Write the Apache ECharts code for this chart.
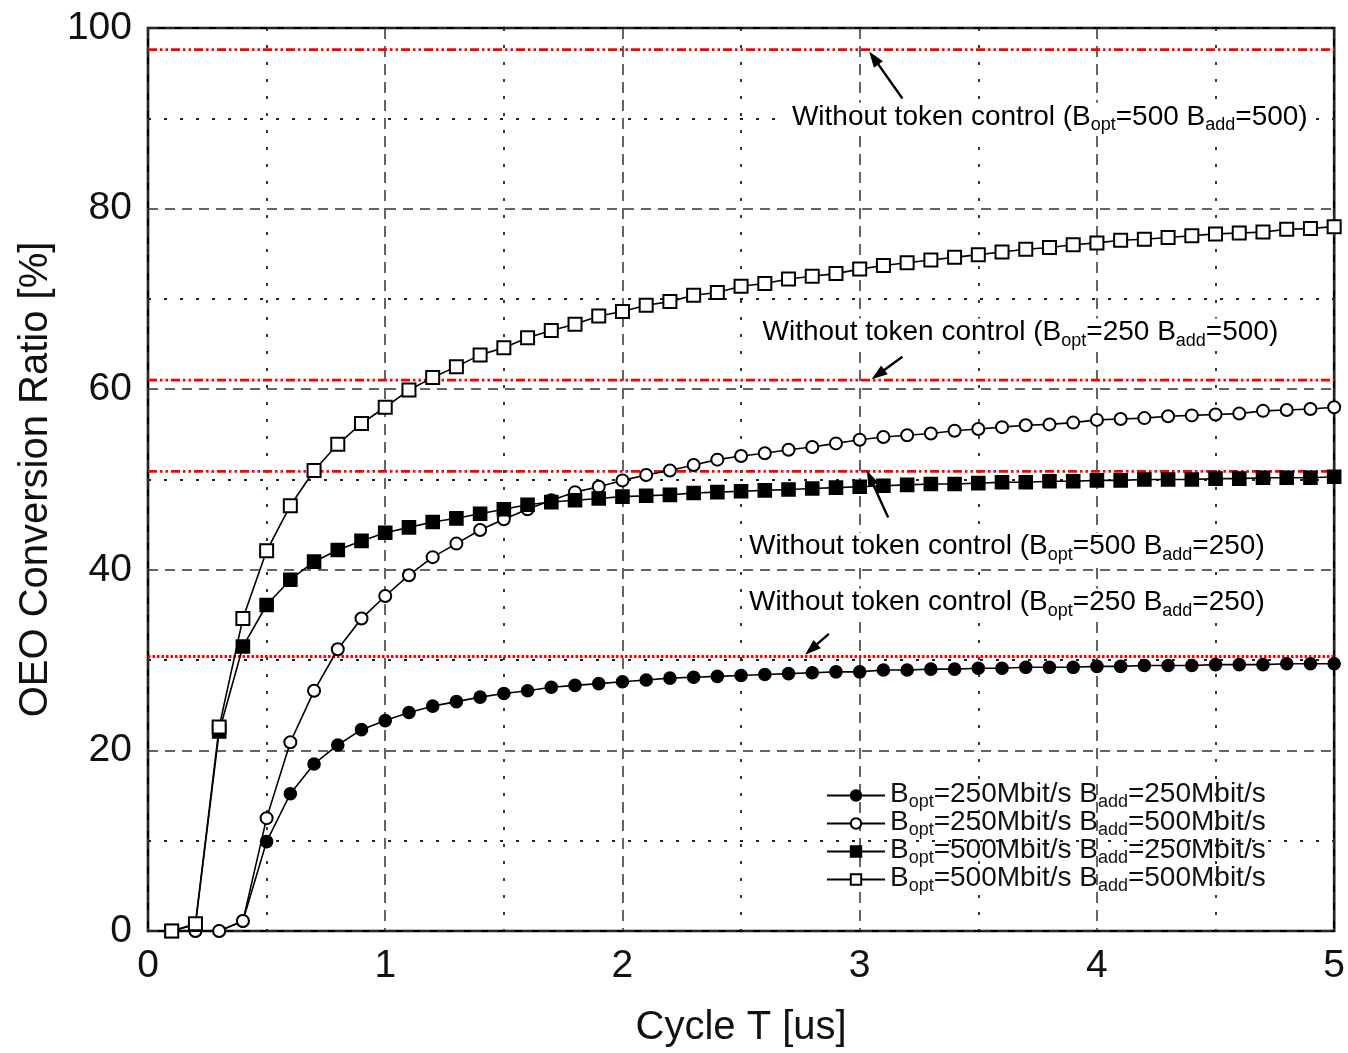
<!DOCTYPE html>
<html>
<head>
<meta charset="utf-8">
<script src="https://cdn.jsdelivr.net/npm/echarts@6/dist/echarts.min.js"></script>
<style>
  html, body { margin: 0; padding: 0; background: #fff; }
  #chart { width: 1348px; height: 1053px; }
</style>
</head>
<body>
<div id="chart"></div>
<script>
// Cycle length T [us]
const cycleT = [0.1, 0.2, 0.3, 0.4, 0.5, 0.6, 0.7, 0.8, 0.9, 1.0,
                1.1, 1.2, 1.3, 1.4, 1.5, 1.6, 1.7, 1.8, 1.9, 2.0,
                2.1, 2.2, 2.3, 2.4, 2.5, 2.6, 2.7, 2.8, 2.9, 3.0,
                3.1, 3.2, 3.3, 3.4, 3.5, 3.6, 3.7, 3.8, 3.9, 4.0,
                4.1, 4.2, 4.3, 4.4, 4.5, 4.6, 4.7, 4.8, 4.9, 5.0];

// OEO conversion ratio [%] with token control
const opt250add250 = [0, 0, 0, 1.1, 9.9, 15.2, 18.5, 20.6, 22.3, 23.3,
                      24.2, 24.9, 25.4, 25.9, 26.3, 26.6, 27.0, 27.2, 27.4, 27.6,
                      27.8, 28.0, 28.1, 28.2, 28.3, 28.4, 28.5, 28.6, 28.7, 28.7,
                      28.9, 28.9, 29.0, 29.0, 29.1, 29.1, 29.2, 29.2, 29.2, 29.3,
                      29.3, 29.4, 29.4, 29.4, 29.5, 29.5, 29.5, 29.6, 29.6, 29.6];
const opt250add500 = [0, 0, 0, 1.1, 12.5, 20.9, 26.6, 31.2, 34.6, 37.1,
                      39.4, 41.4, 42.9, 44.4, 45.6, 46.7, 47.7, 48.6, 49.2, 49.9,
                      50.5, 51.0, 51.6, 52.2, 52.6, 52.9, 53.3, 53.6, 54.0, 54.4,
                      54.7, 54.9, 55.1, 55.4, 55.6, 55.8, 56.0, 56.1, 56.3, 56.6,
                      56.7, 56.8, 57.0, 57.1, 57.2, 57.3, 57.6, 57.7, 57.8, 58.0];
const opt500add250 = [0, 0.7, 22.1, 31.5, 36.1, 38.9, 40.9, 42.2, 43.2, 44.1,
                      44.7, 45.3, 45.7, 46.2, 46.7, 47.2, 47.5, 47.7, 47.9, 48.1,
                      48.2, 48.3, 48.5, 48.6, 48.7, 48.8, 48.9, 49.0, 49.1, 49.2,
                      49.3, 49.4, 49.5, 49.5, 49.6, 49.7, 49.7, 49.8, 49.8, 49.9,
                      49.9, 50.0, 50.0, 50.0, 50.1, 50.1, 50.2, 50.2, 50.2, 50.3];
const opt500add500 = [0, 0.8, 22.6, 34.6, 42.1, 47.1, 51.0, 53.9, 56.2, 58.0,
                      59.9, 61.3, 62.5, 63.8, 64.6, 65.7, 66.5, 67.2, 68.1, 68.6,
                      69.3, 69.7, 70.4, 70.7, 71.4, 71.7, 72.2, 72.5, 72.8, 73.3,
                      73.7, 74.0, 74.3, 74.6, 74.9, 75.2, 75.5, 75.7, 76.0, 76.2,
                      76.5, 76.6, 76.8, 77.0, 77.2, 77.3, 77.4, 77.7, 77.8, 78.0];

// Ratio without token control (horizontal reference levels)
const noTokenLevels = [97.6, 61.0, 50.9, 30.4];   // 500/500, 250/500, 500/250, 250/250
const noTokenRates  = [['500', '500'], ['250', '500'], ['500', '250'], ['250', '250']];

// Series rates [Bopt, Badd] in Mbit/s
const seriesRates = [['250', '250'], ['250', '500'], ['500', '250'], ['500', '500']];
const seriesValues = [opt250add250, opt250add500, opt500add250, opt500add500];
const seriesSymbols = ['circle', 'emptyCircle', 'rect', 'emptyRect'];

// Annotation anchors in data units: text box left/middle, arrow tail, arrow tip
const noteText  = [[2.689, 90.0], [2.565, 66.1], [2.508, 42.4], [2.508, 36.2]];
const noteTail  = [[3.18, 92.2], [3.18, 63.6], [3.12, 45.8], [2.87, 32.9]];
const noteTip   = [[3.04, 97.4], [3.05, 61.1], [3.03, 51.0], [2.77, 30.6]];

const yTicks = [0, 20, 40, 60, 80, 100];
const xTicks = [0, 1, 2, 3, 4, 5];

const FONT = '"Liberation Sans", Arial, Helvetica, sans-serif';
const INK = '#111';

// Main text sits at the top of a tall line, subscripts (opt / add) at its bottom
const richStyles = {
  m: { fontSize: 28, lineHeight: 31, verticalAlign: 'top', fontFamily: FONT, color: INK },
  s: { fontSize: 18, lineHeight: 10, verticalAlign: 'bottom', fontFamily: FONT, color: INK }
};

function seriesName(r) { return 'Bopt=' + r[0] + 'Mbit/s Badd=' + r[1] + 'Mbit/s'; }

const chart = echarts.init(document.getElementById('chart'), null, { renderer: 'canvas' });

const series = seriesValues.map((vals, i) => ({
  name: seriesName(seriesRates[i]),
  type: 'line',
  data: cycleT.map((t, k) => [t, vals[k]]),
  symbol: seriesSymbols[i],
  symbolSize: seriesSymbols[i].indexOf('ircle') >= 0 ? 12 : 13,
  showSymbol: true,
  lineStyle: { color: '#000', width: 1.6 },
  itemStyle: { color: '#000', borderColor: '#000', borderWidth: 1.6 },
  z: 5,
  animation: false
}));

// Red reference levels (dash-dot-dot, lowest one dotted)
noTokenLevels.forEach((lvl, i) => {
  series.push({
    name: 'ref' + i,
    type: 'line',
    data: [[0, lvl], [5, lvl]],
    symbol: 'none',
    lineStyle: {
      color: '#ff0000',
      width: 2.8,
      type: i === 3 ? [2.5, 2] : [9, 3, 2.5, 3, 2.5, 3]
    },
    silent: true,
    z: 3,
    animation: false
  });
});

chart.setOption({
  animation: false,
  backgroundColor: '#fff',
  grid: {
    left: 148, right: 13, top: 28, bottom: 117,
    show: true, borderColor: '#000', borderWidth: 2.6, backgroundColor: 'transparent'
  },
  xAxis: {
    type: 'value', min: 0, max: 5, interval: 1,
    name: 'Cycle T [us]', nameLocation: 'middle', nameGap: 77,
    nameTextStyle: { fontSize: 40, fontFamily: FONT, color: INK },
    axisLine: { show: false }, axisTick: { show: false },
    axisLabel: { fontSize: 39, fontFamily: FONT, color: INK, margin: 16 },
    splitLine: { show: true, lineStyle: { color: '#333', width: 1.5, type: [11, 7] } },
    minorTick: { show: false, splitNumber: 2 },
    minorSplitLine: { show: true, lineStyle: { color: '#222', width: 1.8, type: [3, 14] } }
  },
  yAxis: {
    type: 'value', min: 0, max: 100, interval: 20,
    name: 'OEO Conversion Ratio [%]', nameLocation: 'middle', nameGap: 92,
    nameTextStyle: { fontSize: 40, fontFamily: FONT, color: INK },
    axisLine: { show: false }, axisTick: { show: false },
    axisLabel: { fontSize: 39, fontFamily: FONT, color: INK, margin: 16 },
    splitLine: { show: true, lineStyle: { color: '#333', width: 1.5, type: [10, 7] } },
    minorTick: { show: false, splitNumber: 2 },
    minorSplitLine: { show: true, lineStyle: { color: '#222', width: 1.8, type: [3, 13] } }
  },
  legend: {
    data: seriesRates.map(seriesName),
    orient: 'vertical',
    left: 826, top: 780,
    itemWidth: 58, itemHeight: 13, itemGap: -3,
    padding: 0,
    textStyle: { rich: richStyles, fontFamily: FONT, color: INK },
    formatter: function (name) {
      const m = name.match(/Bopt=(\d+)Mbit\/s Badd=(\d+)Mbit\/s/);
      return '{m|B}{s|opt}{m|=' + m[1] + 'Mbit/s B}{s|add}{m|=' + m[2] + 'Mbit/s}';
    }
  },
  series: series
});

// Annotations: "Without token control" labels with arrows to each level
function arrowGraphics(p0, p1) {
  const dx = p1[0] - p0[0], dy = p1[1] - p0[1];
  const len = Math.sqrt(dx * dx + dy * dy);
  const ux = dx / len, uy = dy / len;
  const headLen = 16, headHalf = 5.5;
  const bx = p1[0] - ux * headLen, by = p1[1] - uy * headLen;
  return [
    { type: 'line', silent: true, z: 20,
      shape: { x1: p0[0], y1: p0[1], x2: bx + ux * 2, y2: by + uy * 2 },
      style: { stroke: '#000', lineWidth: 2.4 } },
    { type: 'polygon', silent: true, z: 20,
      shape: { points: [p1, [bx - uy * headHalf, by + ux * headHalf], [bx + uy * headHalf, by - ux * headHalf]] },
      style: { fill: '#000' } }
  ];
}

const graphics = [];
noTokenRates.forEach((r, i) => {
  const tp = chart.convertToPixel({ gridIndex: 0 }, noteText[i]);
  graphics.push({
    type: 'text', silent: true, z: 20,
    x: tp[0], y: tp[1],
    style: {
      text: '{m|Without token control (B}{s|opt}{m|=' + r[0] + ' B}{s|add}{m|=' + r[1] + ')}',
      rich: richStyles,
      backgroundColor: '#fff',
      padding: [0, 6, 0, 6],
      align: 'left', verticalAlign: 'middle'
    }
  });
  const a = chart.convertToPixel({ gridIndex: 0 }, noteTail[i]);
  const b = chart.convertToPixel({ gridIndex: 0 }, noteTip[i]);
  arrowGraphics(a, b).forEach(g => graphics.push(g));
});
chart.setOption({ graphic: graphics });
</script>
</body>
</html>
